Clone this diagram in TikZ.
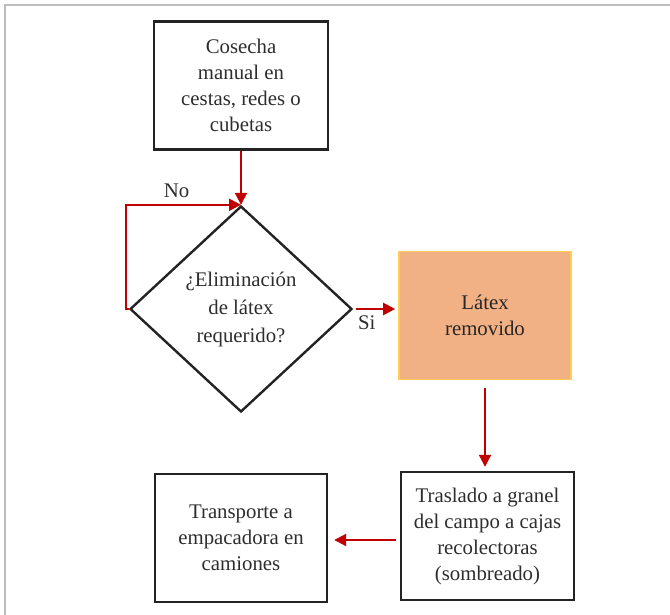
\documentclass[tikz,border=0pt]{standalone}
\usepackage{fontspec}
\newfontfamily\boxfont{LiberationSerif-Regular.ttf}
\usetikzlibrary{shapes.geometric,arrows.meta}

\definecolor{flowred}{RGB}{192,0,0}
\definecolor{boxline}{RGB}{35,35,35}
\definecolor{txt}{RGB}{45,45,45}
\definecolor{peach}{RGB}{242,177,132}
\definecolor{peachline}{RGB}{255,205,80}
\definecolor{frame}{RGB}{190,190,190}

\tikzset{
  stepbox/.style={draw=boxline, line width=1.2pt, rectangle, inner sep=0pt,
    align=center, text=txt, minimum width=#1, minimum height=64pt,
    font=\boxfont\fontsize{10.4}{13}\selectfont},
  stepbox/.default=86.5pt,
  flow/.style={draw=flowred, line width=1pt,
    -{Triangle[length=6pt,width=6pt]}},
  lbl/.style={text=txt, inner sep=0pt, font=\boxfont\fontsize{10.4}{13}\selectfont}
}

\begin{document}
\begin{tikzpicture}[x=0.5pt,y=-0.5pt]
  \useasboundingbox (0,0) rectangle (670,615);
  % page frame
  \draw[frame, line width=1pt] (5,615) -- (5,5) -- (670,5);

  % process steps
  \node[stepbox=87pt] (cosecha) at (241,85.5)
    {Cosecha\\manual en\\cestas, redes o\\cubetas};
  \node[draw=boxline, line width=1.2pt, diamond, aspect=1.08, inner sep=0pt,
        minimum width=111pt, minimum height=103pt, align=center, text=txt,
        font=\boxfont\fontsize{10.4}{14}\selectfont] (decision) at (241,309)
    {¿Eliminación\\de látex\\requerido?};
  \node[stepbox=86pt, draw=peachline, line width=0.8pt, fill=peach,
        text=black!85] (latex) at (485,315.5) {Látex\\removido};
  \node[stepbox=86.5pt] (traslado) at (487.5,536)
    {Traslado a granel\\del campo a cajas\\recolectoras\\(sombreado)};
  \node[stepbox=86pt] (transporte) at (241,538)
    {Transporte a\\empacadora en\\camiones};

  % connectors
  \draw[flow] (cosecha.south) -- (decision.north);
  \draw[flow] (decision.west) -- ++(-3,0) |- (decision.north)
    node[lbl, pos=0.72, above=3pt] {No};
  \draw[flow, shorten <=1.5pt, shorten >=1.5pt]
    (decision.east) -- (decision.east -| latex.west)
    node[lbl, pos=0.3, below=3pt] {Si};
  \draw[flow, shorten <=4pt, shorten >=2pt]
    (latex.south) -- (latex.south |- traslado.north);
  \draw[flow, shorten <=2pt, shorten >=3pt]
    ([yshift=-2pt]traslado.west) -- ([yshift=-2pt]traslado.west -| transporte.east);
\end{tikzpicture}
\end{document}
